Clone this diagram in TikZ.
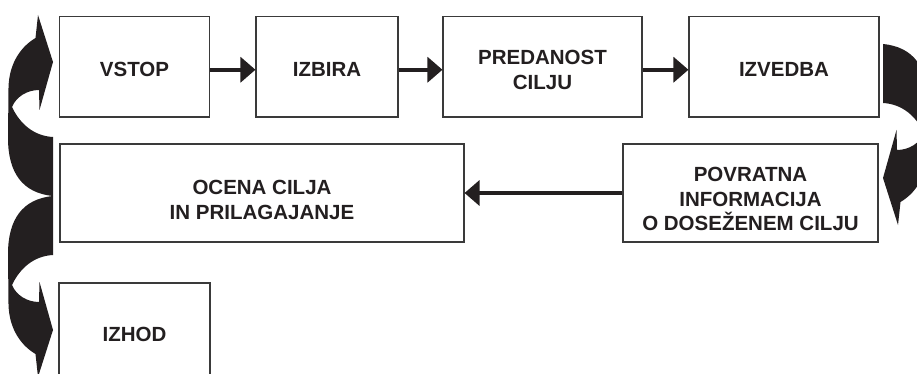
\documentclass[tikz,border=0pt]{standalone}
\usepackage{fontspec}
\setsansfont{Liberation Sans}
\usetikzlibrary{arrows.meta}
\definecolor{ink}{HTML}{231F20}
\definecolor{frame}{HTML}{3A3A3A}

% ribbon-like curved arrow: tail on the right, body bulging left, head on top
\newcommand{\ribbonarrow}{%
  (53,196) .. controls (22,193) and (8,172) .. (8,138)
  -- (8.5,88) .. controls (9,62) and (22,46) .. (35.5,38)
  -- (38,15) -- (53,62) -- (39.5,110) -- (39,90)
  .. controls (27,90) and (16,97) .. (12,107)
  .. controls (20,124) and (34,136) .. (53,137) -- cycle}

\tikzset{
  stepbox/.style={draw=frame, line width=1.1pt, fill=white, inner sep=0pt},
  steplabel/.style={text=ink, align=center, inner sep=0pt,
    font=\sffamily\bfseries\fontsize{20.5}{24.5}\selectfont},
  flow/.style={draw=ink, line width=3.6pt, -{Triangle[length=15pt,width=25pt]}},
  ribbon/.style={fill=ink, draw=none}
}

\begin{document}
\begin{tikzpicture}[x=1pt,y=-1pt]
\useasboundingbox (0,0) rectangle (917,374);
\clip (0,0) rectangle (917,374);

% process boxes
\node[stepbox, minimum width=150pt, minimum height=100.5pt] (vstop)  at (134.5,66.75) {};
\node[stepbox, minimum width=142pt, minimum height=100.5pt] (izbira) at (327,66.75) {};
\node[stepbox, minimum width=199pt, minimum height=100.5pt] (predan) at (542.5,66.75) {};
\node[stepbox, minimum width=190pt, minimum height=100.5pt] (izved)  at (784,66.75) {};
\node[stepbox, minimum width=404pt, minimum height=98pt] (ocena)  at (262,193) {};
\node[stepbox, minimum width=255pt, minimum height=98pt] (povrat) at (750.5,193) {};
\node[stepbox, minimum width=151pt, minimum height=101pt] (izhod)  at (134.5,333.5) {};

% labels
\node[steplabel] (tvstop)  at ([yshift=-3pt]vstop.center)  {VSTOP};
\node[steplabel] (tizbira) at ([yshift=-3pt]izbira.center) {IZBIRA};
\node[steplabel] (tpredan) at ([yshift=-3pt]predan.center) {PREDANOST\\CILJU};
\node[steplabel] (tizved)  at ([yshift=-3pt]izved.center)  {IZVEDBA};
\node[steplabel] (tocena)  at ([yshift=-7pt]ocena.center)  {OCENA CILJA\\IN PRILAGAJANJE};
\node[steplabel] (tpovrat) at ([yshift=-6pt]povrat.center) {POVRATNA\\INFORMACIJA\\O DOSEŽENEM CILJU};
\node[steplabel] (tizhod)  at ([yshift=-1pt]izhod.center)  {IZHOD};

% straight connectors
\draw[flow] ([yshift=-3pt]vstop.east)  -- ([yshift=-3pt]izbira.west);
\draw[flow] ([yshift=-3pt]izbira.east) -- ([yshift=-3pt]predan.west);
\draw[flow] ([yshift=-3pt]predan.east) -- ([yshift=-3pt]izved.west);
\draw[flow] (povrat.west) -- (ocena.east);

% curved ribbon arrows
\fill[ribbon] \ribbonarrow;
\fill[ribbon, shift={(0,392)}, yscale=-1] \ribbonarrow;
\fill[ribbon, shift={(936,240)}, xscale=-1, yscale=-1] \ribbonarrow;
\end{tikzpicture}
\end{document}
